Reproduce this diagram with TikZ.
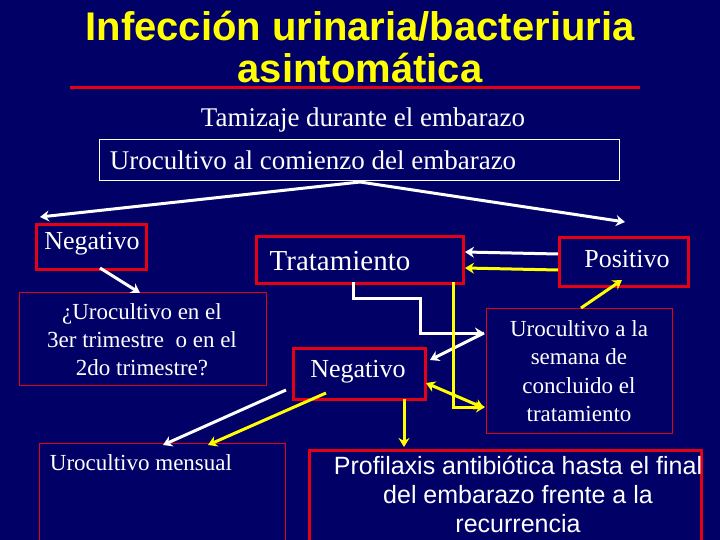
\documentclass[tikz,border=0pt]{standalone}
\usepackage{fontspec}
\setmainfont{Liberation Serif}
\newfontfamily\arial{Liberation Sans}
\usetikzlibrary{arrows.meta}
\definecolor{bg}{RGB}{0,0,102}
\definecolor{rd}{RGB}{230,0,20}
\definecolor{yl}{RGB}{255,255,0}
\begin{document}
\begin{tikzpicture}[x=1pt,y=-1pt,
  thick box/.style={draw=rd,line width=3pt,text=white,inner sep=0pt},
  thin box/.style={draw=rd,line width=0.7pt,text=white,inner sep=0pt,align=center},
  wa/.style={draw=white,line width=3pt,-{Stealth[length=9pt,width=11pt]}},
  ya/.style={draw=yl,line width=3pt,-{Stealth[length=9pt,width=11pt]}},
  yl/.style={draw=yl,line width=3pt},
  wl/.style={draw=white,line width=3pt}]
\fill[bg] (0,0) rectangle (720,540);
\useasboundingbox (0,0) rectangle (720,540);
\node[text=yl,font=\arial\bfseries\fontsize{40}{42}\selectfont,align=center] (title) at (360,47) {Infección urinaria/bacteriuria\\asintomática};
\draw[rd,line width=3pt] (70,88) coordinate (l1) -- (640,88) coordinate (l2);
\node[text=white,font=\fontsize{27}{30}\selectfont] (tam) at (363,120) {Tamizaje durante el embarazo};
\node[draw=white,line width=0.7pt,minimum width=520pt,minimum height=41pt,inner sep=0pt] (uro) at (359,159.5) {};
\node[text=white,font=\fontsize{27}{30}\selectfont] at (313,160) {Urocultivo al comienzo del embarazo};
\node[thick box,minimum width=110pt,minimum height=45pt,anchor=north west] (neg1) at (35,223) {};
\node[text=white,font=\fontsize{26}{30}\selectfont] at (92,244) {Negativo};
\node[thick box,minimum width=207pt,minimum height=47pt,anchor=north west] (trat) at (255,235) {};
\node[text=white,font=\fontsize{29}{30}\selectfont] at (340,261) {Tratamiento};
\node[thick box,minimum width=129pt,minimum height=49pt,anchor=north west] (pos) at (558,236) {};
\node[text=white,font=\fontsize{26}{30}\selectfont] at (627,259) {Positivo};
\node[thin box,minimum width=247pt,minimum height=93pt,anchor=north west] (q) at (19,292) {};
\node[text=white,align=center,font=\fontsize{23}{28}\selectfont] at (142,340) {¿Urocultivo en el\\3er trimestre\ \ o en el\\2do trimestre?};
\node[thick box,minimum width=132pt,minimum height=51pt,anchor=north west] (neg2) at (292,347) {};
\node[text=white,font=\fontsize{26}{30}\selectfont] at (358,372) {Negativo};
\node[thin box,minimum width=186pt,minimum height=125pt,anchor=north west] (sem) at (486,308) {};
\node[text=white,align=center,font=\fontsize{23}{28.5}\selectfont] at (579,371) {Urocultivo a la\\semana de\\concluido el\\tratamiento};
\node[thin box,minimum width=246pt,minimum height=110pt,anchor=north west] (men) at (39,443) {};
\node[text=white,font=\fontsize{23}{26}\selectfont] at (141,463) {Urocultivo mensual};
\node[thick box,minimum width=392pt,minimum height=100pt,anchor=north west] (pro) at (308,449) {};
\node[text=white,align=center,font=\arial\fontsize{25}{29}\selectfont] at (518,494) {Profilaxis antibiótica hasta el final\\del embarazo frente a la\\recurrencia};
% arrows
\coordinate (top) at (360,182);
\draw[wa] (top) -- (40,217);
\draw[wa] (top) -- (625,222);
\draw[wa] ([yshift=8pt]pos.west) -- ([yshift=8pt]trat.east);
\draw[ya] ([yshift=-8pt]pos.west) -- ([yshift=-8pt]trat.east);
\draw[wa] (100,268) -- (140,293);
\draw[wl,-{Stealth[length=9pt,width=11pt]}] (353,282) -- (353,298) -- (420,298) -- (420,333) -- (484,333);
\draw[wa] (484,333) -- (430,360);
\draw[ya] (581,308) -- (622,280);
\draw[yl,-{Stealth[length=9pt,width=11pt]}] (453,282) -- (453,407) -- (485,407);
\draw[yl,{Stealth[length=9pt,width=11pt]}-{Stealth[length=9pt,width=11pt]}] (426,383) -- (484,408);
\draw[ya] (404,399) -- (404,447);
\draw[wa] (286,390) -- (163,445);
\draw[ya] (326,393) -- (208,445);
\end{tikzpicture}
\end{document}
